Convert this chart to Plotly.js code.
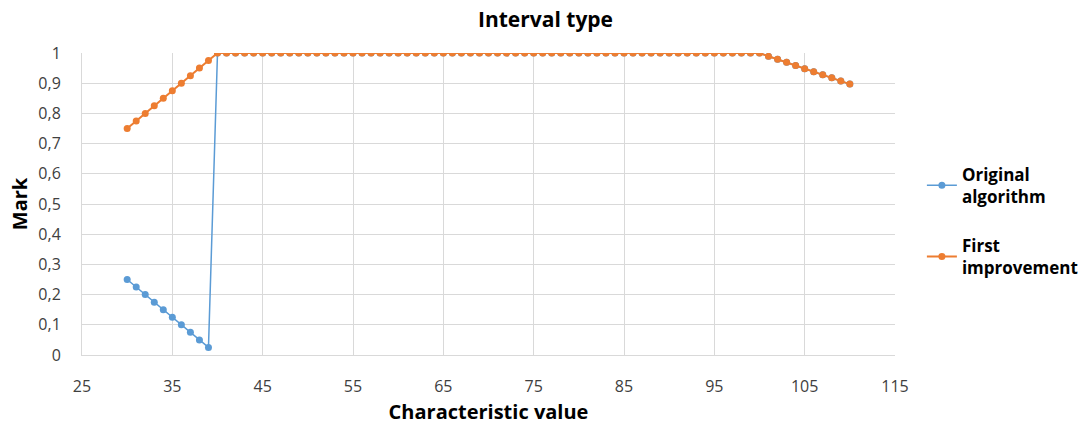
<!DOCTYPE html>
<html>
<head>
<meta charset="utf-8">
<script src="https://cdn.plot.ly/plotly-3.0.1.min.js"></script>
<style>html,body{margin:0;padding:0;background:#fff;}#chart{width:1091px;height:429px;}</style>
</head>
<body>
<div id="chart"></div>
<script>
const xValues = [30,31,32,33,34,35,36,37,38,39,40,41,42,43,44,45,46,47,48,49,50,51,52,53,54,55,56,57,58,59,60,61,62,63,64,65,66,67,68,69,70,71,72,73,74,75,76,77,78,79,80,81,82,83,84,85,86,87,88,89,90,91,92,93,94,95,96,97,98,99,100,101,102,103,104,105,106,107,108,109,110];
const originalStart = [0.25,0.225,0.2,0.175,0.15,0.125,0.1,0.075,0.05,0.025];
const improvedStart = [0.75,0.775,0.8,0.825,0.85,0.875,0.9,0.925,0.95,0.975];
const plateau = new Array(61).fill(1); // x = 40..100
const tailValues = [0.989,0.979,0.969,0.959,0.948,0.938,0.928,0.918,0.907,0.897];
const originalAlgorithm = originalStart.concat(plateau, tailValues);
const firstImprovement = improvedStart.concat(plateau, tailValues);
const xTicks = [25,35,45,55,65,75,85,95,105,115];
const yTicks = [0,0.1,0.2,0.3,0.4,0.5,0.6,0.7,0.8,0.9,1];

const font = "'Open Sans', 'Noto Sans', sans-serif";
const data = [
  {x: xValues, y: originalAlgorithm, type: 'scatter', mode: 'lines+markers', name: 'Original<br>algorithm', legendgroup: 'a',
   line: {color: '#5b9bd5', width: 1.5}, marker: {color: '#5b9bd5', size: 7}},
  {x: xValues, y: firstImprovement, type: 'scatter', mode: 'lines+markers', name: 'First<br>improvement', legendgroup: 'b',
   line: {color: '#ed7d31', width: 2}, marker: {color: '#ed7d31', size: 7}}
];
const layout = {
  width: 1091, height: 429,
  margin: {l: 82, r: 196, t: 53, b: 74},
  paper_bgcolor: '#fff', plot_bgcolor: '#fff',
  separators: ', ',
  font: {family: font, size: 16, color: '#404040'},
  title: {text: '<b>Interval type</b>', font: {family: font, size: 21, color: '#000'}, x: 0.5, xref: 'container', xanchor: 'center', y: 0.955, yref: 'container', yanchor: 'middle'},
  xaxis: {range: [25, 115], tickvals: xTicks, ticktext: xTicks.map(String), showgrid: true, gridcolor: '#d9d9d9', gridwidth: 1,
    zeroline: false, showline: true, linecolor: '#d9d9d9', ticks: 'outside', ticklen: 17, tickcolor: 'rgba(0,0,0,0)',
    tickfont: {size: 16, color: '#404040'},
    title: {text: '<b>Characteristic value</b>', font: {size: 20, color: '#000'}, standoff: 8}},
  yaxis: {range: [0, 1], tickvals: yTicks, showgrid: true, gridcolor: '#d9d9d9', gridwidth: 1,
    zeroline: false, showline: true, linecolor: '#d9d9d9', ticks: 'outside', ticklen: 17, tickcolor: 'rgba(0,0,0,0)',
    tickfont: {size: 16, color: '#404040'},
    title: {text: '<b>Mark</b>', font: {size: 20, color: '#000'}, standoff: 5}},
  showlegend: true,
  legend: {xref: 'container', yref: 'container', x: 0.845, xanchor: 'left', y: 0.635, yanchor: 'top',
    font: {size: 17, color: '#000', weight: 'bold'},
    tracegroupgap: 24, itemwidth: 30, bgcolor: 'rgba(0,0,0,0)'}
};
Plotly.newPlot('chart', data, layout, {displayModeBar: false});
</script>
</body>
</html>
